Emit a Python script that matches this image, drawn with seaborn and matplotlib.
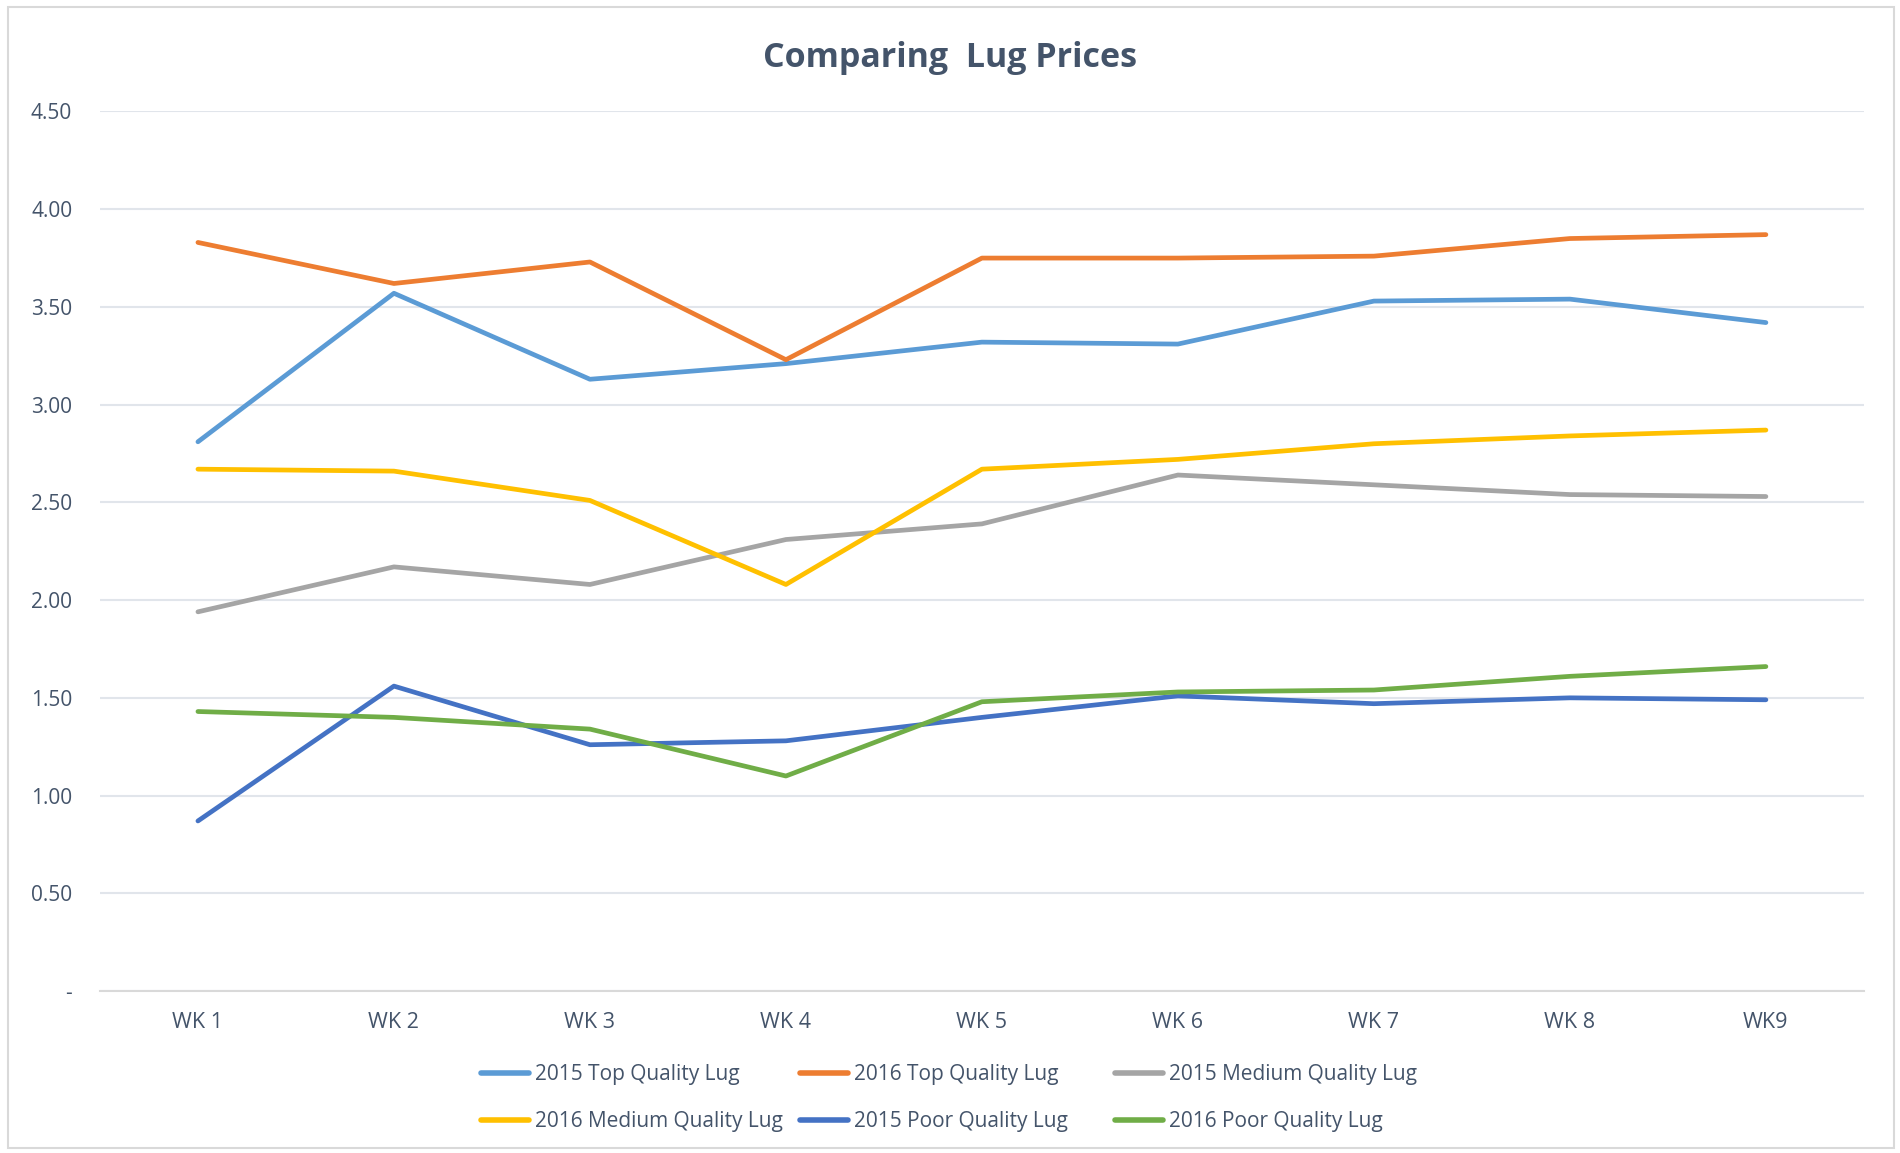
#importing libraries
import numpy as np
import pandas as pd
import seaborn as sns
import matplotlib.pyplot as plt
from matplotlib.patches import Rectangle
from matplotlib.ticker import FixedLocator, FuncFormatter

# chart data
weeks = ['WK 1', 'WK 2', 'WK 3', 'WK 4', 'WK 5', 'WK 6', 'WK 7', 'WK 8', 'WK9']
series_names = ['2015 Top Quality Lug', '2016 Top Quality Lug', '2015 Medium Quality Lug',
                '2016 Medium Quality Lug', '2015 Poor Quality Lug', '2016 Poor Quality Lug']
top_2015 = [2.81, 3.57, 3.13, 3.21, 3.32, 3.31, 3.53, 3.54, 3.42]
top_2016 = [3.83, 3.62, 3.73, 3.23, 3.75, 3.75, 3.76, 3.85, 3.87]
medium_2015 = [1.94, 2.17, 2.08, 2.31, 2.39, 2.64, 2.59, 2.54, 2.53]
medium_2016 = [2.67, 2.66, 2.51, 2.08, 2.67, 2.72, 2.80, 2.84, 2.87]
poor_2015 = [0.87, 1.56, 1.26, 1.28, 1.40, 1.51, 1.47, 1.50, 1.49]
poor_2016 = [1.43, 1.40, 1.34, 1.10, 1.48, 1.53, 1.54, 1.61, 1.66]
colors = ['#5B9BD5', '#ED7D31', '#A5A5A5', '#FFC000', '#4472C4', '#70AD47']

#building long form table
all_values = [top_2015, top_2016, medium_2015, medium_2016, poor_2015, poor_2016]
rows = []
for name, vals in zip(series_names, all_values):
    for i, v in enumerate(vals):
        rows.append({'week': i, 'price': v, 'series': name})
df = pd.DataFrame(rows)

sns.set_theme(style='white')
plt.rcParams['font.family'] = ['Open Sans', 'DejaVu Sans']
text_color = '#44546A'

fig = plt.figure(figsize=(19, 11.53), dpi=100)
ax = fig.add_axes([0.0526, 0.1405, 0.9284, 0.7628])

sns.lineplot(data=df, x='week', y='price', hue='series', hue_order=series_names,
             palette=colors, linewidth=3.4, ax=ax, legend=True, sort=False)

#axes styling
ax.set_xlim(-0.5, 8.5)
ax.set_ylim(0, 4.5)
ax.set_xlabel('')
ax.set_ylabel('')
for s in ['top', 'right', 'left']:
    ax.spines[s].set_visible(False)
ax.spines['bottom'].set_color('#D9D9D9')
ax.spines['bottom'].set_linewidth(1.5)

ax.yaxis.set_major_locator(FixedLocator(np.arange(0, 4.51, 0.5)))
ax.yaxis.set_major_formatter(FuncFormatter(lambda v, p: '-' if v == 0 else f'{v:.2f}'))
ax.grid(axis='y', color='#E1E5EB', linewidth=1.5)
ax.set_axisbelow(True)

ax.set_xticks(range(len(weeks)))
ax.set_xticklabels(weeks)
ax.set_xticks(np.arange(-0.5, 8.6, 1), minor=True)
ax.tick_params(axis='x', which='major', length=0, pad=15, labelsize=15.5, labelcolor=text_color)
ax.tick_params(axis='x', which='minor', length=9, width=1.2, color='#D9D9D9', direction='out')
ax.tick_params(axis='y', length=0, pad=20, labelsize=15, labelcolor=text_color)

#legend: excel uses equal column widths, so one small legend per column
handles, labels = ax.get_legend_handles_labels()
ax.get_legend().remove()
col_x = [0.253, 0.421, 0.587]
col_items = [[0, 3], [1, 4], [2, 5]]
for cx, items in zip(col_x, col_items):
    leg = fig.legend([handles[i] for i in items], [labels[i] for i in items],
                     loc='center left', bbox_to_anchor=(cx, 0.0477), borderpad=0,
                     borderaxespad=0, frameon=False, fontsize=15, handlelength=2.3,
                     handletextpad=0.3, labelspacing=1.25, labelcolor=text_color)
    for line in leg.get_lines():
        line.set_linewidth(4)

fig.text(0.5, 0.95, 'Comparing  Lug Prices', ha='center', va='center',
         fontsize=24.5, fontweight='bold', color=text_color)

#chart border
fig.patches.append(Rectangle((0.004, 0.004), 0.993, 0.99, transform=fig.transFigure,
                             fill=False, edgecolor='#D9D9D9', linewidth=1.5))

fig.savefig('out.png', dpi=100)
